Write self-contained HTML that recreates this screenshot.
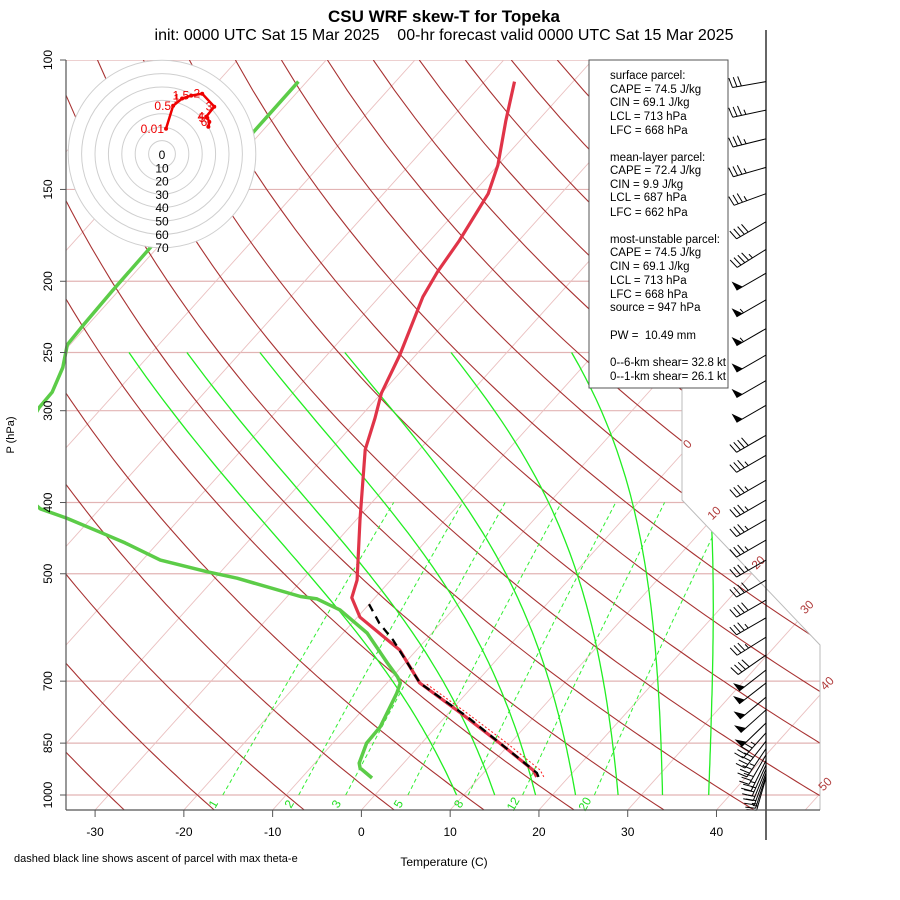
<!DOCTYPE html>
<html><head><meta charset="utf-8"><style>
body{margin:0;background:#fff;}
svg{display:block;font-family:"Liberation Sans",sans-serif;}
</style></head><body>
<svg id="c" width="900" height="900" viewBox="0 0 900 900" xmlns="http://www.w3.org/2000/svg">
<defs><clipPath id="pc"><polygon points="66,60 682,60 682,500 820,645 820,810 66,810"/></clipPath>
<clipPath id="fc"><rect x="38" y="0" width="862" height="900"/></clipPath></defs>
<g id="bg" clip-path="url(#pc)"></g>
<polyline points="682,60 682,500 820,645 820,810" fill="none" stroke="#bbb" stroke-width="1"/>
<g id="labels"></g>
<g id="prof" clip-path="url(#fc)"></g>
<g id="hodo"></g>
<g id="barbs"></g>
<line x1="766" y1="30" x2="766" y2="840" stroke="#000" stroke-width="1.2"/>
<line x1="66" y1="60" x2="66" y2="810" stroke="#555" stroke-width="1.2"/>
<line x1="66" y1="810" x2="820" y2="810" stroke="#555" stroke-width="1.2"/>
<g id="axes"></g>
<text x="444" y="22" text-anchor="middle" font-size="17" font-weight="bold">CSU WRF skew-T for Topeka</text>
<text x="444" y="40" text-anchor="middle" font-size="16" xml:space="preserve">init: 0000 UTC Sat 15 Mar 2025    00-hr forecast valid 0000 UTC Sat 15 Mar 2025</text>
<text x="444" y="866" text-anchor="middle" font-size="12">Temperature (C)</text>
<text x="14" y="862" font-size="11">dashed black line shows ascent of parcel with max theta-e</text>
<text transform="translate(14,435) rotate(-90)" text-anchor="middle" font-size="11">P (hPa)</text>
<g>
<rect x="589" y="60" width="139" height="328" fill="#fff" stroke="#555" stroke-width="1"/>
<g font-size="11.5" fill="#000">
<text x="610" y="79">surface parcel:</text>
<text x="610" y="93">CAPE = 74.5 J/kg</text>
<text x="610" y="106">CIN = 69.1 J/kg</text>
<text x="610" y="120">LCL = 713 hPa</text>
<text x="610" y="134">LFC = 668 hPa</text>
<text x="610" y="161">mean-layer parcel:</text>
<text x="610" y="174">CAPE = 72.4 J/kg</text>
<text x="610" y="188">CIN = 9.9 J/kg</text>
<text x="610" y="201">LCL = 687 hPa</text>
<text x="610" y="216">LFC = 662 hPa</text>
<text x="610" y="243">most-unstable parcel:</text>
<text x="610" y="256">CAPE = 74.5 J/kg</text>
<text x="610" y="270">CIN = 69.1 J/kg</text>
<text x="610" y="284">LCL = 713 hPa</text>
<text x="610" y="298">LFC = 668 hPa</text>
<text x="610" y="311">source = 947 hPa</text>
<text x="610" y="339" xml:space="preserve">PW =  10.49 mm</text>
<text x="610" y="366">0--6-km shear= 32.8 kt</text>
<text x="610" y="380">0--1-km shear= 26.1 kt</text>
</g></g>
</svg>
<script>
// ---- data ----
const pTicks=[100,150,200,250,300,400,500,700,850,1000];
const tTicks=[-30,-20,-10,0,10,20,30,40];
const isoLabelT=[0,10,20,30,40,50];
const isoLabelP=[336,417,487,560,711,975];
const moistT0=[9.2,13.5,18.1,22.6,27.4,32.4,37.6];
const mixW=[1,2,3,5,8,12,20];
const tempP=[945,925,850,773,704,635,573,539,510,422,339,307,284,252,210,194,176,152,139,121,107];
const tempT=[16.4,15.3,8.8,1.3,-6.3,-11.9,-19.7,-22.6,-23.8,-29.6,-36.1,-38.2,-40.0,-41.8,-45.1,-46.0,-46.7,-48.2,-50.0,-53.6,-56.6];
const dewP=[948,919,905,850,808,727,704,691,661,602,560,541,537,507,497,479,454,439,420,408,380,330,297,283,262,244,229,206,180,107];
const dewT=[-2.05,-4.4,-5.0,-6.2,-6.3,-7.85,-8.5,-9.4,-12.0,-17.3,-22.7,-26.4,-28.5,-37.5,-41.5,-48.0,-53.7,-57.6,-62.8,-66.7,-72,-76,-77.1,-77.2,-78.5,-80.3,-80.5,-80.7,-80.8,-80.95];
const parcelP=[945,933,783,704,670,615,584,548];
const parcelT=[16.6,16.0,2.5,-6.3,-9.0,-13.7,-16.9,-20.2];
const virtP=[945,925,850,773,704];
const virtT=[17.2,16.1,9.6,2.0,-5.7];
const hodoU=[3,8.3,15,21.8,30,39,33,33.8,35.3,34.6];
const hodoV=[18.8,36,41.4,43.6,45,35.3,27.8,27,24,20.3];
const hodoLbl=["0.01","0.5","1","1.5","2","3","4","5","6",""];
const barbP=[107,117,128,140,152,166,181,195,212,232,252,273,295,324,345,373,397,422,450,479,510,543,574,610,645,676,704,736,766,798,823,845,865,882,897,910,922,933,942,947];
const barbSpd=[30,35,35,35,35,40,45,50,55,55,50,50,50,40,35,35,35,35,35,35,40,40,35,35,40,50,50,50,50,50,45,40,35,30,25,25,20,20,15,15];
const barbDir=[260,258,256,254,250,240,238,240,240,240,240,240,240,240,240,240,240,240,240,240,240,240,240,238,235,232,232,230,228,226,222,218,214,210,206,204,202,200,198,196];

// ---- axis functions ----
const NS="http://www.w3.org/2000/svg";
function yP(p){return 795-319.2*Math.log(1000/p);}
function xT(T,p){return 361.4+8.877*T+0.9*(810-yP(p));}
function mk(tag,attrs,parent){const e=document.createElementNS(NS,tag);for(const k in attrs)e.setAttribute(k,attrs[k]);parent.appendChild(e);return e;}
function es(T){return 6.112*Math.exp(17.67*T/(T+243.5));}
function pts(arrP,arrT){return arrP.map((p,i)=>xT(arrT[i],p).toFixed(1)+","+yP(p).toFixed(1)).join(" ");}
const bg=document.getElementById('bg');
pTicks.forEach(p=>{const l=mk('line',{x1:66,x2:820,y1:yP(p),y2:yP(p),stroke:'#e2b4b4','stroke-width':1.2},bg);

});
for(let T=-130;T<=50;T+=10){const l=mk('line',{x1:361.4+8.877*T+0.9*750,y1:60,x2:361.4+8.877*T,y2:810,stroke:'#eac0c0','stroke-width':0.9},bg);

}
for(let n=-12;n<=20;n++){const th=273.15+10*n;let s=[];for(let p=100;p<=1050;p+=10){const T=th*Math.pow(p/1000,0.2857)-273.15;s.push(xT(T,p).toFixed(1)+","+yP(p).toFixed(1));}
const l=mk('polyline',{points:s.join(" "),fill:'none',stroke:'#a83232','stroke-width':1.1},bg);

}
mixW.forEach(w=>{let s=[];for(let p=1000;p>=400;p-=20){let lo=-60,hi=50;for(let k=0;k<40;k++){const m=(lo+hi)/2;const r=622*es(m)/(p-es(m));if(r>w)hi=m;else lo=m;}s.push(xT(lo,p).toFixed(1)+","+yP(p).toFixed(1));}
const l=mk('polyline',{points:s.join(" "),fill:'none',stroke:'#33ee33','stroke-width':1,'stroke-dasharray':'4,3'},bg);

});
function thetaE(T,p){const TK=T+273.15;const e=es(T);const r=0.622*e/(p-e);return TK*Math.pow(1000/p,0.2857)*Math.exp(0.84*2.5e6*r/(1004*TK));}
moistT0.forEach(T0=>{const te=thetaE(T0,1000);let s=[];for(let p=1000;p>=250;p-=10){let lo=-100,hi=50;for(let k=0;k<40;k++){const m=(lo+hi)/2;if(thetaE(m,p)>te)hi=m;else lo=m;}s.push(xT(lo,p).toFixed(1)+","+yP(p).toFixed(1));}
const l=mk('polyline',{points:s.join(" "),fill:'none',stroke:'#22ee22','stroke-width':1.3},bg);

});
const lab=document.getElementById('labels');
mixW.forEach(w=>{let lo=-60,hi=50;for(let k=0;k<40;k++){const m=(lo+hi)/2;const r=622*es(m)/(1000-es(m));if(r>w)hi=m;else lo=m;}
const x=xT(lo,1000)-6,y=806;const t=mk('text',{x:x,y:y,'font-size':12,fill:'#22dd22','text-anchor':'middle',transform:`rotate(-60 ${x} ${y})`},lab);t.textContent=w;

});
isoLabelT.forEach((T,i)=>{const p=isoLabelP[i];const x=xT(T,p)+2,y=yP(p);const t=mk('text',{x:x,y:y,'font-size':12,fill:'#b03a3a','text-anchor':'middle',transform:`rotate(-45 ${x} ${y})`},lab);t.textContent=T;

});
const ax=document.getElementById('axes');
pTicks.forEach(p=>{const y=yP(p);mk('line',{x1:60,x2:66,y1:y,y2:y,stroke:'#555'},ax);const t=mk('text',{x:0,y:0,'font-size':12,'text-anchor':'middle',transform:`translate(52,${y}) rotate(-90)`},ax);t.textContent=p;

});
tTicks.forEach(T=>{const x=361.4+8.877*T;mk('line',{x1:x,x2:x,y1:810,y2:817,stroke:'#555'},ax);const t=mk('text',{x:x,y:836,'font-size':12,'text-anchor':'middle'},ax);t.textContent=T;

});
const pr=document.getElementById('prof');
let e;
e=mk('polyline',{points:pts(dewP,dewT),fill:'none',stroke:'#5ccc48','stroke-width':3.5,'stroke-linejoin':'round'},pr);


e=mk('polyline',{points:pts(virtP,virtT),fill:'none',stroke:'#ff2020','stroke-width':1,'stroke-dasharray':'2,2'},pr);


e=mk('polyline',{points:pts(tempP,tempT),fill:'none',stroke:'#e03448','stroke-width':3.2,'stroke-linejoin':'round'},pr);


e=mk('polyline',{points:pts(parcelP,parcelT),fill:'none',stroke:'#000','stroke-width':2.3,'stroke-dasharray':'8,6'},pr);


const hg=document.getElementById('hodo');const cx=162,cy=154,sc=1.34;
mk('circle',{cx:cx,cy:cy,r:94,fill:'#fff',stroke:'none'},hg);
for(let k=1;k<=7;k++){mk('circle',{cx:cx,cy:cy,r:13.4*k,fill:'none',stroke:'#cfcfcf','stroke-width':1},hg);}
for(let k=0;k<=7;k++){const t=mk('text',{x:cx,y:cy+5+13.3*k,'font-size':12,'text-anchor':'middle'},hg);t.textContent=k*10;

}
const hp=hodoU.map((u,i)=>(cx+u*sc).toFixed(1)+","+(cy-hodoV[i]*sc).toFixed(1)).join(" ");
e=mk('polyline',{points:hp,fill:'none',stroke:'#ee0000','stroke-width':2.5},hg);


hodoU.forEach((u,i)=>{const x=cx+u*sc,y=cy-hodoV[i]*sc;mk('circle',{cx:x,cy:y,r:2,fill:'#ee0000'},hg);if(hodoLbl[i]){const t=mk('text',{x:x-2,y:y+4,'font-size':12,fill:'#ee0000','text-anchor':'end'},hg);t.textContent=hodoLbl[i];

}});
const bgp=document.getElementById('barbs');
barbP.forEach((p,i)=>{const y0=yP(p),x0=766;const d=barbDir[i]*Math.PI/180;const sx=Math.sin(d),sy=-Math.cos(d);const L=34;
const ex=x0+sx*L,ey=y0+sy*L;const px=-sy,py=sx;
const g=mk('g',{},bgp);


mk('line',{x1:x0,y1:y0,x2:ex,y2:ey,stroke:'#000','stroke-width':1},g);
let spd=Math.round(barbSpd[i]/5)*5;let pos=0;
while(spd>=50){const ax1=ex-sx*pos,ay1=ey-sy*pos,bx=ex-sx*(pos+7),by=ey-sy*(pos+7);mk('polygon',{points:`${ax1},${ay1} ${bx},${by} ${ax1+px*10},${ay1+py*10}`,fill:'#000'},g);pos+=8;spd-=50;}
while(spd>=10){const ax1=ex-sx*pos,ay1=ey-sy*pos;mk('line',{x1:ax1,y1:ay1,x2:ax1+px*10+sx*2,y2:ay1+py*10+sy*2,stroke:'#000','stroke-width':1},g);pos+=4.5;spd-=10;}
if(spd>=5){if(pos===0)pos=4.5;const ax1=ex-sx*pos,ay1=ey-sy*pos;mk('line',{x1:ax1,y1:ay1,x2:ax1+px*5+sx*1,y2:ay1+py*5+sy*1,stroke:'#000','stroke-width':1},g);}
});
</script>
</body></html>
